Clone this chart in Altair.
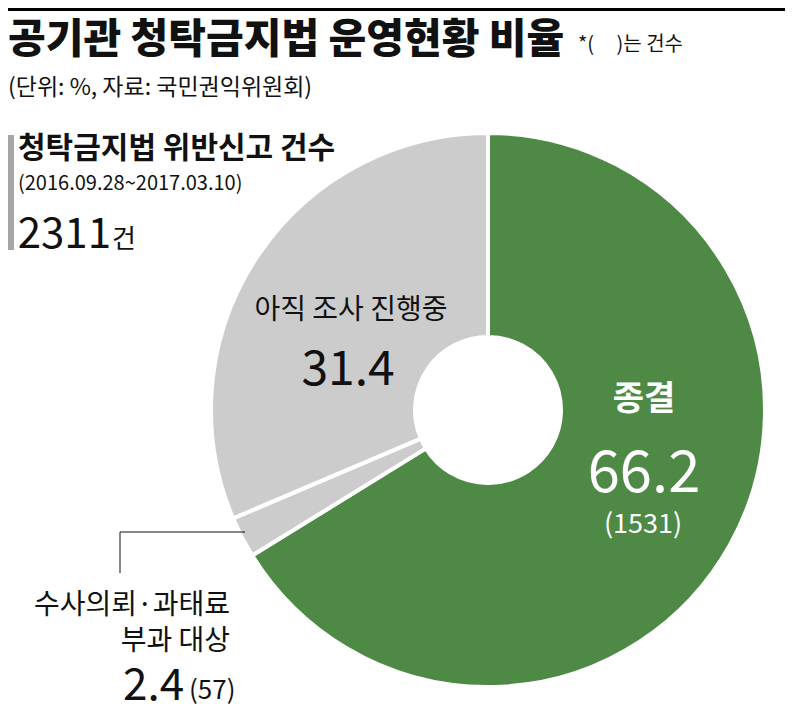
import altair as alt
import pandas as pd

# ---- data ----
categories = ["종결", "수사의뢰·과태료 부과 대상", "아직 조사 진행중"]
percents = [66.2, 2.4, 31.4]
orders = [1, 2, 3]
colors = ["#4e8a46", "#cccccc", "#cccccc"]

title_text = "공기관 청탁금지법 운영현황 비율"
note_text = "*(\u00a0\u00a0\u00a0\u00a0\u00a0)는 건수"
subtitle_text = "(단위: %, 자료: 국민권익위원회)"
box_title = "청탁금지법 위반신고 건수"
box_period = "(2016.09.28~2017.03.10)"
box_total = "2311"
box_unit = "건"

KR = "Noto Sans CJK KR"

W, H = 777, 699
CX, CY = 480, 402

df = pd.DataFrame({"cat": categories, "pct": percents, "ord": orders})

pie = alt.Chart(df).mark_arc(
    radius=277, innerRadius=73, stroke="white", strokeWidth=4
).encode(
    theta=alt.Theta("pct:Q", stack=True),
    order=alt.Order("ord:Q"),
    color=alt.Color("cat:N", scale=alt.Scale(domain=categories, range=colors), legend=None),
    x=alt.value(CX),
    y=alt.value(CY),
)

def txt(text, x, y, size, align="left", baseline="middle", weight="normal", color="#111111", font=KR):
    return alt.Chart(pd.DataFrame({"t": [text]})).mark_text(
        align=align, baseline=baseline, fontSize=size, fontWeight=weight,
        color=color, font=font
    ).encode(text="t:N", x=alt.value(x), y=alt.value(y))

top_bar = alt.Chart(pd.DataFrame({"a": [0]})).mark_rect(color="#000000").encode(
    x=alt.value(0), x2=alt.value(W), y=alt.value(0), y2=alt.value(3))
side_bar = alt.Chart(pd.DataFrame({"a": [0]})).mark_rect(color="#a6a6a6").encode(
    x=alt.value(0), x2=alt.value(6), y=alt.value(127), y2=alt.value(242))

lead_h = alt.Chart(pd.DataFrame({"a": [0]})).mark_rule(color="#111111", strokeWidth=1).encode(
    x=alt.value(112), x2=alt.value(237), y=alt.value(524))
lead_v = alt.Chart(pd.DataFrame({"a": [0]})).mark_rule(color="#111111", strokeWidth=1).encode(
    x=alt.value(112), y=alt.value(524), y2=alt.value(565))

layers = [
    pie, top_bar, side_bar, lead_h, lead_v,
    txt(title_text, 0, 33, 41, weight=900),
    txt(note_text, 570, 37, 20),
    txt(subtitle_text, 0, 80, 23),
    txt(box_title, 10, 141, 30, weight="bold"),
    txt(box_period, 10, 176, 20),
    txt(box_total, 103, 240, 42, align="right", baseline="alphabetic"),
    txt(box_unit, 104, 240, 26, baseline="alphabetic"),
    txt(categories[2], 343, 303, 28, align="center"),
    txt(f"{percents[2]}", 340, 377, 48, align="center", baseline="alphabetic"),
    txt(categories[0], 636, 392, 34, align="center", weight="bold", color="white"),
    txt(f"{percents[0]}", 636, 484, 58, align="center", baseline="alphabetic", color="white"),
    txt("(1531)", 635, 517, 27, align="center", color="white"),
    txt("수사의뢰·과태료", 222, 598, 28, align="right"),
    txt("부과 대상", 222, 634, 28, align="right"),
    txt(f"{percents[1]}", 115, 692, 44, baseline="alphabetic"),
    txt("(57)", 181, 691, 26, baseline="alphabetic"),
]

chart = alt.layer(*layers).properties(
    width=W, height=H,
    autosize=alt.AutoSizeParams(type="none"),
    padding=0,
    background="white",
).configure_view(stroke=None)

chart.save("out.html", embed_options={"renderer": "svg", "actions": False})
